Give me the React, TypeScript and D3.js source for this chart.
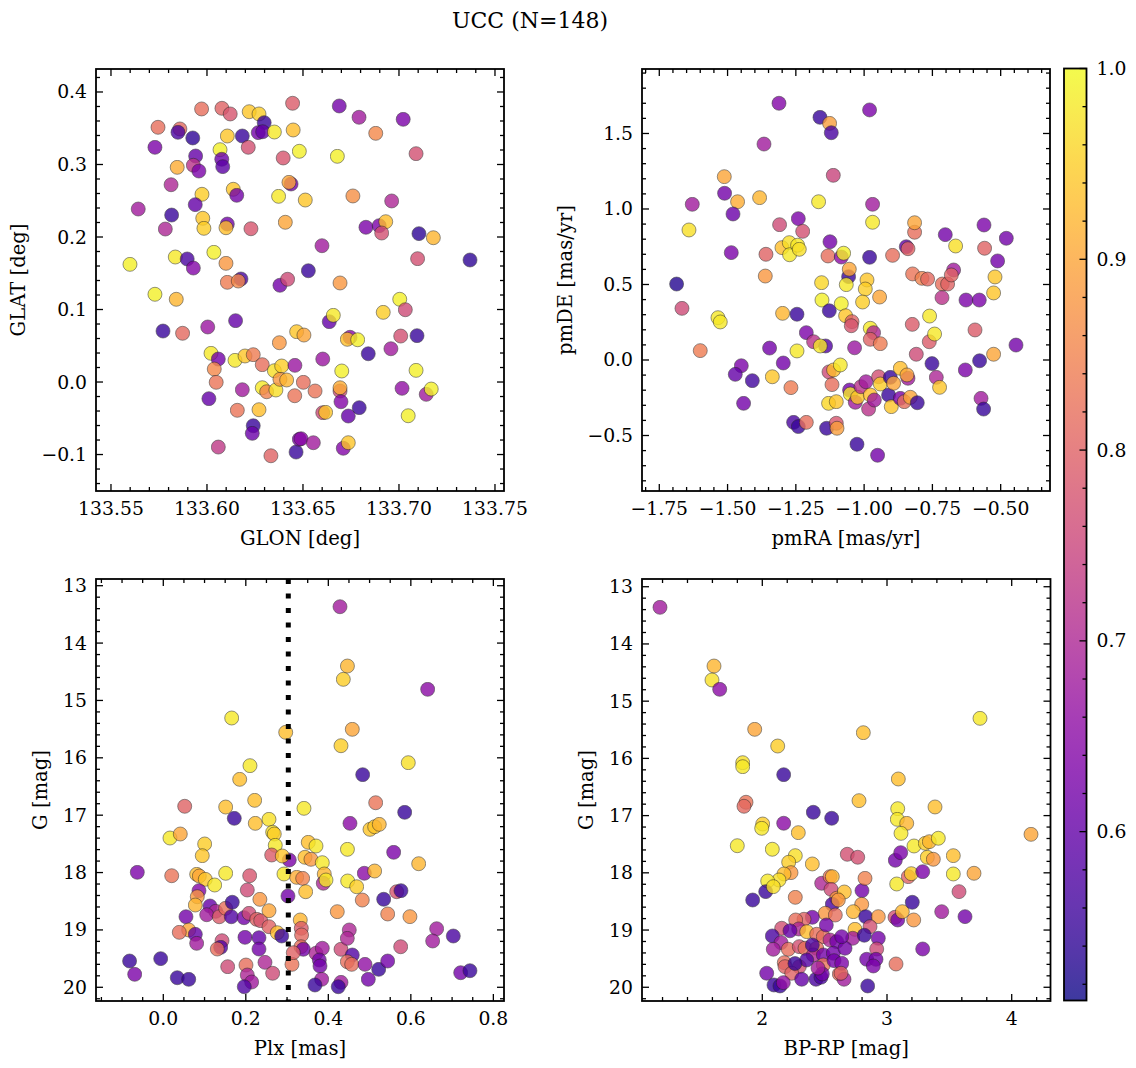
import React from 'react';
import * as d3 from 'd3';

// [GLON, GLAT, probability]
const positionStars: [number, number, number][] = [
  [133.5972, 0.3766, 0.82], [133.6078, 0.3775, 0.8], [133.6121, 0.3697, 0.78], [133.622, 0.3728, 0.94],
  [133.6271, 0.3697, 0.95], [133.6298, 0.3577, 0.55], [133.6446, 0.3844, 0.79], [133.5745, 0.3513, 0.82],
  [133.5859, 0.349, 0.81], [133.5849, 0.3444, 0.57], [133.5926, 0.3366, 0.54], [133.6106, 0.3393, 0.94],
  [133.6184, 0.3393, 0.55], [133.6267, 0.3439, 0.62], [133.629, 0.3452, 0.6], [133.6351, 0.3448, 0.98],
  [133.6449, 0.3476, 0.93], [133.5729, 0.3237, 0.63], [133.6068, 0.3204, 0.99], [133.6215, 0.3237, 0.77],
  [133.6397, 0.309, 0.78], [133.6481, 0.3182, 0.99], [133.5941, 0.3117, 0.6], [133.6077, 0.3072, 0.61],
  [133.6082, 0.297, 0.59], [133.5845, 0.2961, 0.91], [133.5929, 0.2989, 0.72], [133.5958, 0.291, 0.63],
  [133.5813, 0.2721, 0.7], [133.6137, 0.2658, 0.94], [133.6155, 0.2575, 0.62], [133.6438, 0.2731, 0.62],
  [133.6427, 0.2754, 0.9], [133.5974, 0.2589, 0.95], [133.5939, 0.2446, 0.6], [133.6373, 0.2561, 0.98],
  [133.5642, 0.2386, 0.68], [133.5816, 0.2303, 0.55], [133.5978, 0.2258, 0.94], [133.5984, 0.212, 0.95],
  [133.6106, 0.2179, 0.62], [133.6099, 0.2128, 0.93], [133.6229, 0.2114, 0.78], [133.6408, 0.2203, 0.9],
  [133.5783, 0.211, 0.7], [133.5599, 0.1623, 0.99], [133.5835, 0.1724, 0.98], [133.5897, 0.1697, 0.57],
  [133.5929, 0.1572, 0.64], [133.6036, 0.1789, 0.99], [133.6099, 0.1637, 0.88], [133.6177, 0.1421, 0.57],
  [133.6106, 0.1375, 0.84], [133.6163, 0.1393, 0.86], [133.638, 0.1334, 0.62], [133.642, 0.1417, 0.76],
  [133.5729, 0.121, 0.99], [133.584, 0.1141, 0.92], [133.6689, 0.3807, 0.62], [133.6792, 0.3651, 0.68],
  [133.7022, 0.3623, 0.63], [133.6879, 0.343, 0.86], [133.6679, 0.3113, 0.99], [133.7089, 0.3149, 0.77],
  [133.6512, 0.251, 0.94], [133.676, 0.2566, 0.87], [133.6962, 0.2497, 0.7], [133.6828, 0.2134, 0.63],
  [133.6897, 0.2156, 0.63], [133.6931, 0.2211, 0.93], [133.691, 0.2055, 0.77], [133.7104, 0.2046, 0.54],
  [133.7179, 0.199, 0.92], [133.6599, 0.188, 0.68], [133.7097, 0.1701, 0.77], [133.737, 0.1683, 0.54],
  [133.6528, 0.1535, 0.55], [133.6693, 0.1366, 0.88], [133.7004, 0.1141, 0.99], [133.5771, 0.0703, 0.55],
  [133.5873, 0.0672, 0.81], [133.6004, 0.0759, 0.67], [133.6149, 0.0846, 0.6], [133.6021, 0.0396, 0.98],
  [133.6059, 0.0317, 0.62], [133.6146, 0.0299, 0.98], [133.6198, 0.0359, 0.94], [133.6241, 0.0377, 0.84],
  [133.6288, 0.0239, 0.82], [133.6377, 0.0542, 0.88], [133.6038, 0.0179, 0.86], [133.6048, -0.0004, 0.83],
  [133.601, -0.023, 0.6], [133.6184, -0.0106, 0.68], [133.6351, 0.0156, 0.97], [133.6389, 0.0221, 0.95],
  [133.6458, 0.023, 0.67], [133.6467, 0.0694, 0.94], [133.6288, -0.0079, 0.98], [133.6311, -0.0134, 0.85],
  [133.6359, -0.011, 0.97], [133.638, 0.0037, 0.88], [133.6415, 0.0028, 0.92], [133.6457, -0.0189, 0.83],
  [133.6158, -0.039, 0.83], [133.6271, -0.0382, 0.93], [133.6241, -0.0603, 0.55], [133.6236, -0.0708, 0.61],
  [133.6059, -0.0897, 0.73], [133.6333, -0.1017, 0.8], [133.6464, -0.0966, 0.55], [133.6481, -0.079, 0.63],
  [133.7033, 0.0997, 0.76], [133.6918, 0.0961, 0.95], [133.6637, 0.0832, 0.6], [133.6658, 0.092, 0.98],
  [133.6505, 0.0648, 0.9], [133.6745, 0.0617, 0.65], [133.6731, 0.0589, 0.93], [133.6785, 0.0583, 0.99],
  [133.7009, 0.0634, 0.77], [133.7094, 0.0639, 0.55], [133.684, 0.039, 0.55], [133.6958, 0.0459, 0.68],
  [133.6603, 0.0317, 0.67], [133.6702, 0.0152, 0.99], [133.7089, 0.0161, 0.99], [133.6502, -0.0004, 0.82],
  [133.6563, -0.0124, 0.83], [133.6693, -0.0124, 0.76], [133.6693, -0.0079, 0.91], [133.6698, -0.0272, 0.64],
  [133.6793, -0.0354, 0.55], [133.6736, -0.0469, 0.6], [133.6603, -0.0423, 0.76], [133.6618, -0.0418, 0.94],
  [133.7016, -0.0087, 0.66], [133.7142, -0.017, 0.68], [133.7168, -0.0097, 0.99], [133.7048, -0.0465, 0.99],
  [133.649, -0.0782, 0.65], [133.6554, -0.0837, 0.68], [133.671, -0.0914, 0.64], [133.6736, -0.0837, 0.94],
];

// [pmRA, pmDE, probability]
const motionStars: [number, number, number][] = [
  [-1.3117, 1.7, 0.64], [-1.1616, 1.607, 0.55], [-1.1264, 1.567, 0.89], [-1.1202, 1.505, 0.57],
  [-1.3666, 1.43, 0.68], [-1.1129, 1.223, 0.75], [-1.512, 1.214, 0.9], [-1.5109, 1.104, 0.62],
  [-1.4633, 1.048, 0.91], [-1.3827, 1.075, 0.92], [-1.6292, 1.031, 0.68], [-1.4801, 0.967, 0.61],
  [-1.1667, 1.048, 0.98], [-1.6413, 0.861, 0.97], [-1.3095, 0.896, 0.76], [-1.241, 0.936, 0.63],
  [-1.2249, 0.852, 0.77], [-1.4864, 0.711, 0.63], [-1.3594, 0.7, 0.8], [-1.3008, 0.744, 0.93],
  [-1.274, 0.777, 0.97], [-1.2729, 0.697, 0.98], [-1.2436, 0.76, 0.98], [-1.2374, 0.733, 0.97],
  [-1.125, 0.783, 0.62], [-1.1323, 0.689, 0.82], [-1.6866, 0.503, 0.53], [-1.3619, 0.556, 0.88],
  [-1.1557, 0.512, 0.96], [-1.6669, 0.342, 0.76], [-1.5351, 0.28, 0.98], [-1.5267, 0.252, 0.98],
  [-1.6, 0.062, 0.84], [-1.2985, 0.309, 0.92], [-1.2458, 0.303, 0.55], [-1.1543, 0.397, 0.99],
  [-1.1275, 0.326, 0.55], [-1.2117, 0.181, 0.63], [-1.185, 0.121, 0.72], [-1.1411, 0.093, 0.58],
  [-1.1605, 0.093, 0.98], [-1.3461, 0.079, 0.62], [-1.2458, 0.06, 0.98], [-1.296, -0.02, 0.62],
  [-1.4497, -0.038, 0.63], [-1.4717, -0.095, 0.6], [-1.4094, -0.137, 0.56], [-1.3362, -0.111, 0.94],
  [-1.268, -0.183, 0.84], [-1.4413, -0.287, 0.62], [-1.1286, -0.079, 0.76], [-1.1118, -0.066, 0.93],
  [-1.1176, -0.163, 0.82], [-1.1301, -0.287, 0.96], [-1.1019, -0.276, 0.94], [-1.2582, -0.413, 0.57],
  [-1.241, -0.441, 0.55], [-1.2117, -0.413, 0.82], [-1.1374, -0.452, 0.55], [-1.1019, -0.419, 0.78],
  [-1.0993, -0.452, 0.89], [-0.98, 1.656, 0.63], [-0.969, 1.031, 0.68], [-0.969, 0.912, 0.98],
  [-1.0836, 0.682, 0.65], [-1.0751, 0.707, 0.99], [-0.98, 0.68, 0.55], [-0.8958, 0.693, 0.82],
  [-0.8456, 0.75, 0.6], [-0.8394, 0.737, 0.8], [-0.8152, 0.846, 0.82], [-0.8152, 0.909, 0.9],
  [-0.7028, 0.83, 0.62], [-0.665, 0.755, 0.97], [-0.5611, 0.894, 0.63], [-0.5589, 0.74, 0.8],
  [-0.4794, 0.806, 0.62], [-0.5112, 0.656, 0.62], [-0.5208, 0.55, 0.94], [-0.5259, 0.444, 0.94],
  [-1.0568, 0.552, 0.55], [-1.0543, 0.601, 0.9], [-1.0653, 0.499, 0.98], [-0.9895, 0.53, 0.94],
  [-0.9957, 0.47, 0.95], [-0.9433, 0.417, 0.9], [-1.0056, 0.384, 0.95], [-1.0836, 0.373, 0.99],
  [-1.0678, 0.293, 0.94], [-1.0444, 0.254, 0.8], [-1.047, 0.227, 0.78], [-1.0349, 0.081, 0.67],
  [-0.9774, 0.21, 0.98], [-0.9653, 0.181, 0.7], [-0.9774, 0.137, 0.8], [-0.9408, 0.108, 0.84],
  [-0.8236, 0.236, 0.79], [-0.809, 0.038, 0.76], [-0.7603, 0.291, 0.98], [-0.7614, 0.121, 0.79],
  [-0.742, 0.172, 0.98], [-0.594, 0.199, 0.79], [-0.4439, 0.099, 0.62], [-0.5259, 0.038, 0.9],
  [-0.5772, -0.005, 0.55], [-0.6295, -0.066, 0.63], [-0.7515, -0.024, 0.55], [-0.7357, -0.115, 0.7],
  [-0.7237, -0.181, 0.94], [-0.8225, 0.57, 0.83], [-0.7881, 0.541, 0.85], [-0.7676, 0.536, 0.81],
  [-0.7138, 0.503, 0.82], [-0.6943, 0.503, 0.8], [-0.6723, 0.596, 0.68], [-0.6808, 0.563, 0.8],
  [-0.7149, 0.413, 0.72], [-0.627, 0.397, 0.63], [-0.5783, 0.397, 0.63], [-0.572, -0.254, 0.68],
  [-0.5625, -0.325, 0.55], [-1.0872, -0.033, 0.98], [-1.0532, -0.199, 0.62], [-1.0506, -0.225, 0.98],
  [-1.0323, -0.28, 0.68], [-1.0239, -0.247, 0.94], [-1.0114, -0.177, 0.72], [-0.9932, -0.144, 0.68],
  [-0.9774, -0.232, 0.93], [-0.9836, -0.325, 0.72], [-0.9627, -0.265, 0.68], [-0.9469, -0.111, 0.77],
  [-0.9408, -0.159, 0.95], [-0.9104, -0.232, 0.55], [-0.9042, -0.115, 0.55], [-0.8921, -0.154, 0.9],
  [-0.9005, -0.309, 0.94], [-0.8675, -0.055, 0.93], [-0.8394, -0.121, 0.68], [-0.843, -0.099, 0.9],
  [-0.8675, -0.254, 0.63], [-0.8529, -0.276, 0.82], [-0.8309, -0.247, 0.9], [-0.8053, -0.283, 0.55],
  [-1.0261, -0.558, 0.55], [-0.9507, -0.631, 0.62],
];

// [Plx, G, probability]
const parallaxStars: [number, number, number][] = [
  [0.1658, 15.306, 0.98], [0.2967, 15.556, 0.93], [0.2101, 16.137, 0.98], [0.1852, 16.375, 0.93],
  [0.0519, 16.845, 0.8], [0.1512, 16.858, 0.93], [0.2215, 16.741, 0.93], [0.1721, 17.055, 0.55],
  [0.223, 17.142, 0.93], [0.2562, 17.072, 0.97], [0.0162, 17.398, 0.98], [0.0412, 17.328, 0.9],
  [0.1003, 17.502, 0.95], [0.0945, 17.706, 0.94], [0.2651, 17.298, 0.97], [0.269, 17.328, 0.95],
  [0.2714, 17.525, 0.98], [0.2627, 17.694, 0.79], [0.3054, 17.781, 0.63], [0.2884, 17.711, 0.94],
  [-0.063, 17.996, 0.63], [0.0204, 18.055, 0.83], [0.0809, 18.031, 0.93], [0.0873, 18.06, 0.9],
  [0.1018, 18.118, 0.94], [0.1246, 18.217, 0.98], [0.1512, 18.013, 0.98], [0.2094, 18.055, 0.78],
  [0.2925, 18.025, 0.98], [0.3233, 18.083, 0.91], [0.0865, 18.316, 0.64], [0.0824, 18.421, 0.88],
  [0.0776, 18.566, 0.92], [0.2036, 18.304, 0.76], [0.2341, 18.467, 0.88], [0.3022, 18.409, 0.62],
  [0.1132, 18.583, 0.6], [0.127, 18.676, 0.7], [0.1052, 18.735, 0.68], [0.1357, 18.77, 0.79],
  [0.151, 18.623, 0.82], [0.1672, 18.518, 0.55], [0.1648, 18.77, 0.58], [0.1956, 18.787, 0.62],
  [0.2077, 18.711, 0.76], [0.2264, 18.815, 0.8], [0.2361, 18.839, 0.78], [0.2562, 18.665, 0.9],
  [0.2562, 18.944, 0.8], [0.2763, 19.049, 0.93], [0.287, 19.106, 0.55], [0.055, 18.77, 0.62],
  [0.0616, 19.001, 0.9], [0.0388, 19.042, 0.82], [0.0776, 19.077, 0.6], [0.0809, 19.234, 0.68],
  [0.1423, 19.188, 0.76], [0.1391, 19.303, 0.58], [0.1309, 19.333, 0.82], [0.198, 19.129, 0.62],
  [0.2319, 19.136, 0.6], [0.2319, 19.333, 0.62], [-0.0817, 19.542, 0.55], [-0.0693, 19.774, 0.63],
  [-0.0063, 19.501, 0.55], [0.0339, 19.833, 0.55], [0.0616, 19.861, 0.55], [0.1561, 19.641, 0.76],
  [0.2004, 19.612, 0.82], [0.2465, 19.565, 0.7], [0.2651, 19.756, 0.76], [0.2036, 19.786, 0.7],
  [0.2142, 19.908, 0.68], [0.1963, 19.99, 0.58], [0.3119, 19.6, 0.83], [0.4283, 13.366, 0.68],
  [0.4463, 14.4, 0.92], [0.4363, 14.632, 0.95], [0.6408, 14.806, 0.65], [0.4581, 15.503, 0.9],
  [0.4307, 15.789, 0.95], [0.5938, 16.085, 0.97], [0.4833, 16.294, 0.55], [0.5148, 16.783, 0.83],
  [0.5851, 16.95, 0.55], [0.341, 16.88, 0.98], [0.4525, 17.142, 0.65], [0.501, 17.247, 0.94],
  [0.5123, 17.201, 0.94], [0.5235, 17.16, 0.92], [0.3514, 17.473, 0.93], [0.3701, 17.537, 0.98],
  [0.4463, 17.595, 0.98], [0.5584, 17.647, 0.63], [0.3434, 17.734, 0.93], [0.3579, 17.769, 0.88],
  [0.3854, 17.828, 0.98], [0.619, 17.846, 0.92], [0.3378, 18.101, 0.85], [0.3902, 18.025, 0.92],
  [0.3878, 18.187, 0.7], [0.3943, 18.13, 0.98], [0.3451, 18.334, 0.93], [0.4469, 18.147, 0.98],
  [0.4687, 18.247, 0.95], [0.4872, 18.013, 0.65], [0.5123, 17.973, 0.92], [0.4823, 18.479, 0.85],
  [0.5342, 18.466, 0.55], [0.5657, 18.334, 0.78], [0.5761, 18.316, 0.55], [0.4217, 18.682, 0.88],
  [0.5439, 18.722, 0.85], [0.5978, 18.769, 0.88], [0.332, 18.827, 0.92], [0.3345, 18.972, 0.79],
  [0.3352, 19.088, 0.81], [0.3337, 19.293, 0.82], [0.3393, 19.338, 0.62], [0.3151, 19.397, 0.8],
  [0.3701, 19.407, 0.7], [0.3854, 19.32, 0.68], [0.3781, 19.524, 0.62], [0.3798, 19.629, 0.62],
  [0.3839, 19.861, 0.68], [0.3676, 19.96, 0.55], [0.4307, 19.338, 0.76], [0.4508, 19.001, 0.7],
  [0.446, 19.147, 0.7], [0.4581, 19.437, 0.58], [0.446, 19.554, 0.82], [0.4566, 19.6, 0.82],
  [0.4307, 19.914, 0.68], [0.4241, 19.99, 0.55], [0.4889, 19.6, 0.66], [0.4969, 19.861, 0.62],
  [0.5221, 19.687, 0.55], [0.5439, 19.542, 0.62], [0.5754, 19.293, 0.76], [0.6626, 18.979, 0.68],
  [0.6529, 19.193, 0.68], [0.7029, 19.106, 0.57], [0.7208, 19.746, 0.62], [0.7433, 19.711, 0.55],
];

// [BP-RP, G, probability]
const colourStars: [number, number, number][] = [
  [1.1796, 13.36, 0.68], [1.6127, 14.386, 0.92], [1.5966, 14.63, 0.97], [1.6584, 14.793, 0.65],
  [1.9391, 15.492, 0.9], [2.1235, 15.784, 0.95], [1.8428, 16.075, 0.97], [1.8428, 16.145, 0.98],
  [2.1716, 16.285, 0.55], [1.8693, 16.767, 0.83], [1.8532, 16.837, 0.81], [2.409, 16.942, 0.55],
  [2.5565, 17.047, 0.55], [2.1716, 17.134, 0.65], [2.0032, 17.147, 0.95], [1.9952, 17.222, 0.98],
  [2.2887, 17.298, 0.93], [1.7995, 17.526, 0.98], [2.0802, 17.588, 0.98], [2.2646, 17.7, 0.97],
  [2.2117, 17.815, 0.95], [2.401, 17.845, 0.93], [2.2302, 17.997, 0.88], [2.174, 18.02, 0.93],
  [2.1339, 18.125, 0.97], [2.0433, 18.143, 0.98], [2.0273, 18.329, 0.55], [2.0882, 18.242, 0.97],
  [1.923, 18.475, 0.55], [2.2646, 18.428, 0.85], [2.4763, 18.183, 0.7], [2.5429, 18.067, 0.83],
  [2.5614, 18.067, 0.92], [2.5509, 18.288, 0.76], [2.5966, 18.445, 0.88], [2.5614, 18.55, 0.57],
  [2.5052, 18.707, 0.88], [2.5854, 18.737, 0.82], [2.401, 18.777, 0.62], [2.3344, 18.812, 0.8],
  [2.2678, 18.824, 0.82], [2.1556, 18.969, 0.77], [2.2919, 18.981, 0.7], [2.3561, 19.028, 0.93],
  [2.4362, 19.074, 0.82], [2.4892, 19.116, 0.82], [2.5429, 19.174, 0.7], [2.5966, 19.203, 0.62],
  [2.0802, 19.103, 0.57], [2.15, 19.22, 0.68], [2.0882, 19.336, 0.68], [2.2085, 19.336, 0.82],
  [2.2967, 19.29, 0.77], [2.3424, 19.318, 0.82], [2.4362, 19.318, 0.82], [2.409, 19.435, 0.7],
  [2.4892, 19.435, 0.62], [2.5694, 19.406, 0.62], [2.1764, 19.57, 0.82], [2.182, 19.64, 0.8],
  [2.2967, 19.64, 0.77], [2.3561, 19.523, 0.58], [2.4892, 19.61, 0.83], [2.575, 19.535, 0.62],
  [2.2358, 19.755, 0.8], [2.0353, 19.755, 0.62], [2.0938, 19.96, 0.55], [2.1419, 19.977, 0.55],
  [2.1684, 19.919, 0.66], [2.316, 19.86, 0.6], [2.4307, 19.86, 0.57], [2.4707, 19.825, 0.57],
  [2.4812, 19.767, 0.62], [2.6175, 19.767, 0.82], [2.262, 19.585, 0.55], [2.401, 19.261, 0.57],
  [2.5133, 18.912, 0.62], [2.4467, 19.664, 0.68], [2.222, 19.013, 0.6],
  [2.81, 15.551, 0.93], [3.7458, 15.3, 0.98], [3.0906, 16.36, 0.93], [2.7755, 16.739, 0.93],
  [3.0858, 16.879, 0.98], [3.3849, 16.849, 0.93], [3.0826, 17.065, 0.98], [3.158, 17.135, 0.92],
  [3.1123, 17.31, 0.98], [4.1548, 17.327, 0.9], [3.2165, 17.531, 0.98], [3.3072, 17.484, 0.95],
  [3.3392, 17.456, 0.92], [3.4114, 17.396, 0.98], [3.3232, 17.729, 0.95], [3.3713, 17.763, 0.88],
  [3.5317, 17.7, 0.93], [3.0666, 17.781, 0.62], [3.1099, 17.648, 0.63], [2.6816, 17.676, 0.77],
  [2.7651, 17.728, 0.77], [3.5317, 18.02, 0.98], [3.6977, 18.008, 0.9], [3.1708, 18.067, 0.8],
  [3.1949, 18.015, 0.95], [3.2863, 17.98, 0.63], [3.0778, 18.195, 0.98], [3.5774, 18.329, 0.76],
  [2.6576, 18.335, 0.93], [2.7995, 18.311, 0.62], [2.8236, 18.096, 0.85], [2.6095, 18.475, 0.88],
  [2.7971, 18.55, 0.88], [2.7297, 18.679, 0.92], [2.8292, 18.766, 0.55], [2.9302, 18.766, 0.88],
  [3.0642, 18.777, 0.77], [3.0858, 18.824, 0.62], [3.1227, 18.679, 0.92], [3.2141, 18.824, 0.88],
  [3.2028, 18.515, 0.55], [3.4387, 18.679, 0.68], [3.6255, 18.766, 0.62], [2.8637, 18.941, 0.77],
  [2.7434, 18.987, 0.93], [2.7249, 19.144, 0.68], [2.818, 19.091, 0.55], [2.9302, 19.144, 0.62],
  [2.9174, 19.331, 0.76], [3.2863, 19.331, 0.63], [2.8372, 19.511, 0.62], [2.9118, 19.511, 0.62],
  [2.8902, 19.628, 0.63], [3.0722, 19.593, 0.82], [2.8452, 19.977, 0.55], [2.6367, 19.58, 0.63],
  [2.6552, 19.86, 0.68], [2.6311, 19.755, 0.8], [2.6632, 19.318, 0.62], [2.6367, 19.116, 0.62],
];

const plxLine = 0.303;
const probRange: [number, number] = [0.5115, 1.0];
const cbarMajor = [0.6, 0.7, 0.8, 0.9, 1.0];
const titleText = 'UCC (N=148)';

const FONT = "'DejaVu Serif', serif";
const TICK_FS = 18.8;
const LABEL_FS = 19.6;
const TITLE_FS = 22;

const colorOf = (p: number) =>
  d3.interpolatePlasma((p - probRange[0]) / (probRange[1] - probRange[0]));

function minorTicks(domain: [number, number], step: number, majors: number[]) {
  const lo = Math.min(domain[0], domain[1]);
  const hi = Math.max(domain[0], domain[1]);
  const out: number[] = [];
  const start = Math.ceil(lo / step - 1e-9);
  const end = Math.floor(hi / step + 1e-9);
  for (let i = start; i <= end; i++) {
    const v = i * step;
    if (majors.some((m) => Math.abs(m - v) < step * 1e-3)) continue;
    out.push(v);
  }
  return out;
}

const fmtNum = (d: number, digits: number) => {
  const s = Math.abs(d).toFixed(digits);
  return (d < -1e-12 ? '\u2212' : '') + s;
};

type PanelProps = {
  left: number; top: number; width: number; height: number;
  xDomain: [number, number]; yDomain: [number, number];
  xMajor: number[]; xMinor: number; yMajor: number[]; yMinor: number;
  xDigits: number; yDigits: number;
  xLabel: string; yLabel: string; yLabelOffset: number;
  data: [number, number, number][];
  vline?: number;
};

function Panel(props: PanelProps) {
  const { left, top, width, height, xDomain, yDomain, xMajor, yMajor, data } = props;
  const x = d3.scaleLinear().domain(xDomain).range([left, left + width]);
  const y = d3.scaleLinear().domain(yDomain).range([top + height, top]);
  const right = left + width;
  const bottom = top + height;
  const xMin = minorTicks(xDomain, props.xMinor, xMajor);
  const yMin = minorTicks(yDomain, props.yMinor, yMajor);
  const MAJ = 7;
  const MIN = 4;
  const tw = 1.3;
  return (
    <g>
      {data.map((d, i) => (
        <circle key={i} cx={x(d[0])} cy={y(d[1])} r={7} fill={colorOf(d[2])}
          stroke="#222" strokeWidth={0.6} opacity={0.8} />
      ))}
      {props.vline !== undefined && (
        <line x1={x(props.vline)} x2={x(props.vline)} y1={top} y2={bottom}
          stroke="#000" strokeWidth={5} strokeDasharray="5 9.5" />
      )}
      <g stroke="#000" strokeWidth={tw}>
        {xMajor.map((v) => (
          <g key={'xM' + v}>
            <line x1={x(v)} x2={x(v)} y1={bottom} y2={bottom - MAJ} />
            <line x1={x(v)} x2={x(v)} y1={top} y2={top + MAJ} />
          </g>
        ))}
        {xMin.map((v) => (
          <g key={'xm' + v}>
            <line x1={x(v)} x2={x(v)} y1={bottom} y2={bottom - MIN} />
            <line x1={x(v)} x2={x(v)} y1={top} y2={top + MIN} />
          </g>
        ))}
        {yMajor.map((v) => (
          <g key={'yM' + v}>
            <line x1={left} x2={left + MAJ} y1={y(v)} y2={y(v)} />
            <line x1={right} x2={right - MAJ} y1={y(v)} y2={y(v)} />
          </g>
        ))}
        {yMin.map((v) => (
          <g key={'ym' + v}>
            <line x1={left} x2={left + MIN} y1={y(v)} y2={y(v)} />
            <line x1={right} x2={right - MIN} y1={y(v)} y2={y(v)} />
          </g>
        ))}
      </g>
      <rect x={left} y={top} width={width} height={height} fill="none" stroke="#000" strokeWidth={1.8} />
      <g fontFamily={FONT} fontSize={TICK_FS} fill="#000">
        {xMajor.map((v) => (
          <text key={'xl' + v} x={x(v)} y={bottom + 17} textAnchor="middle" dominantBaseline="central">
            {fmtNum(v, props.xDigits)}
          </text>
        ))}
        {yMajor.map((v) => (
          <text key={'yl' + v} x={left - 9} y={y(v)} textAnchor="end" dominantBaseline="central">
            {fmtNum(v, props.yDigits)}
          </text>
        ))}
      </g>
      <text x={left + width / 2} y={bottom + 47} textAnchor="middle" dominantBaseline="central"
        fontFamily={FONT} fontSize={LABEL_FS}>{props.xLabel}</text>
      <text transform={`translate(${left - props.yLabelOffset},${top + height / 2}) rotate(-90)`}
        textAnchor="middle" dominantBaseline="central" fontFamily={FONT} fontSize={LABEL_FS}>
        {props.yLabel}
      </text>
    </g>
  );
}

function Colorbar({ left, top, width, height }: { left: number; top: number; width: number; height: number }) {
  const y = d3.scaleLinear().domain(probRange).range([top + height, top]);
  const stops = d3.range(0, 1.0001, 0.05);
  const minors = minorTicks(probRange, 0.02, cbarMajor);
  const right = left + width;
  return (
    <g>
      <defs>
        <linearGradient id="cbgrad" x1="0" y1="1" x2="0" y2="0">
          {stops.map((t) => (
            <stop key={t} offset={t} stopColor={d3.interpolatePlasma(t)} stopOpacity={0.8} />
          ))}
        </linearGradient>
      </defs>
      <rect x={left} y={top} width={width} height={height} fill="url(#cbgrad)" />
      <g stroke="#000" strokeWidth={1.3}>
        {cbarMajor.map((v) => (
          <line key={'cM' + v} x1={right} x2={right - 7} y1={y(v)} y2={y(v)} />
        ))}
        {minors.map((v) => (
          <line key={'cm' + v} x1={right} x2={right - 4} y1={y(v)} y2={y(v)} />
        ))}
      </g>
      <rect x={left} y={top} width={width} height={height} fill="none" stroke="#000" strokeWidth={1.8} />
      <g fontFamily={FONT} fontSize={TICK_FS}>
        {cbarMajor.map((v) => (
          <text key={'cl' + v} x={right + 10} y={y(v)} dominantBaseline="central">{v.toFixed(1)}</text>
        ))}
      </g>
    </g>
  );
}

export default function App() {
  return (
    <svg width={1136} height={1068} style={{ position: 'absolute', left: 0, top: 0, background: '#fff' }}>
      <rect width={1136} height={1068} fill="#fff" />
      <text x={530} y={20} textAnchor="middle" dominantBaseline="central" fontFamily={FONT} fontSize={TITLE_FS}>
        {titleText}
      </text>
      <Panel left={96} top={69} width={408} height={422}
        xDomain={[133.5422, 133.7547]} yDomain={[-0.1503, 0.4317]}
        xMajor={[133.55, 133.6, 133.65, 133.7, 133.75]} xMinor={0.01}
        yMajor={[-0.1, 0, 0.1, 0.2, 0.3, 0.4]} yMinor={0.02}
        xDigits={2} yDigits={1} xLabel="GLON [deg]" yLabel="GLAT [deg]" yLabelOffset={78}
        data={positionStars} />
      <Panel left={642} top={69} width={408} height={422}
        xDomain={[-1.8133, -0.3194]} yDomain={[-0.8675, 1.927]}
        xMajor={[-1.75, -1.5, -1.25, -1.0, -0.75, -0.5]} xMinor={0.05}
        yMajor={[-0.5, 0, 0.5, 1.0, 1.5]} yMinor={0.1}
        xDigits={2} yDigits={1} xLabel="pmRA [mas/yr]" yLabel="pmDE [mas/yr]" yLabelOffset={77}
        data={motionStars} />
      <Panel left={96} top={579} width={408} height={422}
        xDomain={[-0.1631, 0.8258]} yDomain={[20.239, 12.883]}
        xMajor={[0, 0.2, 0.4, 0.6, 0.8]} xMinor={0.05}
        yMajor={[13, 14, 15, 16, 17, 18, 19, 20]} yMinor={0.2}
        xDigits={1} yDigits={0} xLabel="Plx [mas]" yLabel="G [mag]" yLabelOffset={56}
        data={parallaxStars} vline={plxLine} />
      <Panel left={642} top={579} width={408.5} height={422}
        xDomain={[1.0353, 4.3111]} yDomain={[20.24, 12.865]}
        xMajor={[2, 3, 4]} xMinor={0.2}
        yMajor={[13, 14, 15, 16, 17, 18, 19, 20]} yMinor={0.2}
        xDigits={0} yDigits={0} xLabel="BP-RP [mag]" yLabel="G [mag]" yLabelOffset={56}
        data={colourStars} />
      <Colorbar left={1064} top={68.5} width={22.5} height={932} />
    </svg>
  );
}
